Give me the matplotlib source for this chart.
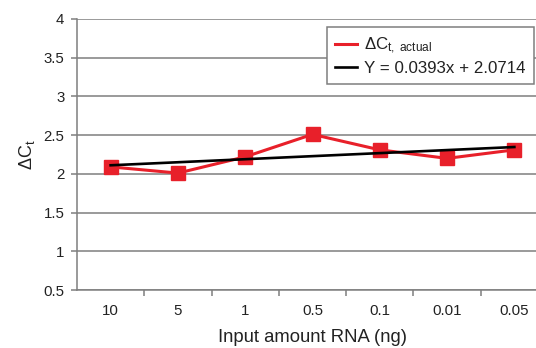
import matplotlib.pyplot as plt
from matplotlib.lines import Line2D
import numpy as np

plt.rcParams['font.family'] = ['Liberation Sans', 'DejaVu Sans']
plt.rcParams['mathtext.fontset'] = 'custom'
plt.rcParams['mathtext.rm'] = 'Liberation Sans'
plt.rcParams['mathtext.it'] = 'Liberation Sans'

# data
categories = ['10', '5', '1', '0.5', '0.1', '0.01', '0.05']
delta_ct = [2.09, 2.01, 2.22, 2.51, 2.31, 2.20, 2.31]
slope = 0.0393
intercept = 2.0714

x = np.arange(1, len(categories) + 1)
fit = slope * x + intercept

grey = '#7f7f7f'
red = '#e8202a'
txt = '#222222'

fig = plt.figure(figsize=(5.36, 3.48), dpi=100)
# the reference crops the right end of the plot area
ax = fig.add_axes([77 / 536, 58 / 348, 471 / 536, 271 / 348])

ax.plot(x, delta_ct, color=red, lw=2.2, marker='s', ms=9.5, mec=red, zorder=3)
ax.plot(x, fit, color='black', lw=1.9, zorder=4)

ax.set_xlim(0.5, 7.5)
ax.set_ylim(0.5, 4)
ax.set_yticks(np.arange(0.5, 4.01, 0.5))
ax.set_yticklabels(['0.5', '1', '1.5', '2', '2.5', '3', '3.5', '4'])
ax.grid(axis='y', color=grey, lw=1.1)
ax.set_axisbelow(True)

ax.set_xticks(x)
ax.set_xticklabels(categories)
ax.set_xticks(np.arange(1.5, 7.5, 1), minor=True)
ax.tick_params(axis='x', which='major', length=0, pad=10, labelsize=10.8, colors=txt)
ax.tick_params(axis='x', which='minor', length=4, width=1.1, color=grey, direction='out')
ax.tick_params(axis='y', length=4, width=1.1, color=grey, pad=5, labelsize=10.8, labelcolor=txt)

for s in ['top', 'right']:
    ax.spines[s].set_visible(False)
for s in ['left', 'bottom']:
    ax.spines[s].set_color(grey)
    ax.spines[s].set_linewidth(1.1)

ax.set_xlabel('Input amount RNA (ng)', fontsize=13.3, color=txt, labelpad=8)
ax.set_ylabel(r'ΔC$_{\mathrm{t}}$', fontsize=13, color=txt, labelpad=5)

handles = [Line2D([], [], color=red, lw=2.2), Line2D([], [], color='black', lw=1.9)]
labels = [r'ΔC$_{\mathrm{t,\ actual}}$', 'Y = 0.0393x + 2.0714']
leg = ax.legend(handles, labels, loc='upper left', bbox_to_anchor=(250 / 471, 1 - 8 / 271),
                borderaxespad=0, fontsize=12.2, handlelength=1.25, handletextpad=0.45,
                borderpad=0.5, labelspacing=0.3, fancybox=False, framealpha=1)
leg.get_frame().set_edgecolor(grey)
leg.get_frame().set_linewidth(1.1)
for t in leg.get_texts():
    t.set_color(txt)

plt.savefig('out.png', dpi=100)
